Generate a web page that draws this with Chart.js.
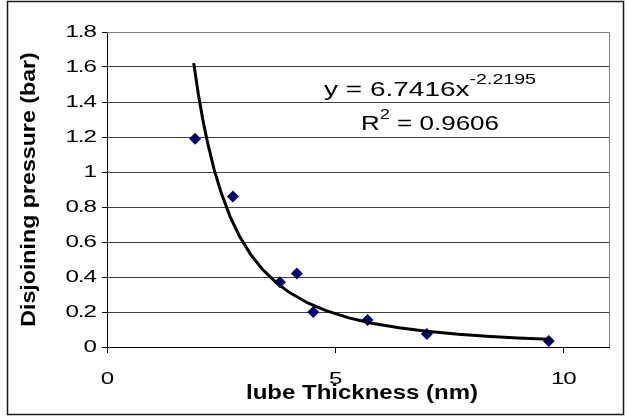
<!DOCTYPE html>
<html>
<head>
<meta charset="utf-8">
<script src="https://cdn.jsdelivr.net/npm/chart.js@4.4.1/dist/chart.umd.min.js"></script>
<style>
  html, body { margin: 0; padding: 0; background: #fff; }
  canvas { display: block; }
</style>
</head>
<body>
<canvas id="pressureChart" width="627" height="417"></canvas>
<script>
// measured lube film thickness (nm) and disjoining pressure (bar)
const thickness = [1.93, 2.76, 3.79, 4.16, 4.52, 5.71, 7.01, 9.68];
const pressure = [1.19, 0.86, 0.37, 0.42, 0.2, 0.155, 0.075, 0.035];

// power-law trendline y = a * x^b, coefficients as printed
const fitA = 6.7416;
const fitB = -2.2195;
const fitR2 = 0.9606;
const fitX = [1.9, 2.0, 2.1, 2.2, 2.35, 2.5, 2.7, 2.9, 3.15, 3.4, 3.7, 4.0, 4.4, 4.8, 5.3, 5.8, 6.4, 7.0, 7.7, 8.4, 9.0, 9.68];

const xTicks = [0, 5, 10];
const yTicks = [0, 0.2, 0.4, 0.6, 0.8, 1, 1.2, 1.4, 1.6, 1.8];

const FONT = '"Liberation Sans", Arial, sans-serif';

// Excel renders its text a bit wide, so stretch it horizontally
function wideText(ctx, text, x, y, sx, align) {
  const w = ctx.measureText(text).width * sx;
  let left = x;
  if (align === 'center') left = x - w / 2;
  else if (align === 'right') left = x - w;
  ctx.save();
  ctx.translate(left, y);
  ctx.scale(sx, 1);
  ctx.textAlign = 'left';
  ctx.fillText(text, 0, 0);
  ctx.restore();
  return w;
}

const excelText = {
  id: 'excelText',
  afterDraw(chart) {
    const { ctx, chartArea: a, scales: { x, y } } = chart;
    ctx.save();

    // grey top/right edges of the plot area
    ctx.strokeStyle = '#808080';
    ctx.lineWidth = 1;
    ctx.beginPath();
    ctx.moveTo(a.left, a.top + 0.5);
    ctx.lineTo(a.right + 0.5, a.top + 0.5);
    ctx.lineTo(a.right + 0.5, a.bottom);
    ctx.stroke();

    // chart frame
    ctx.strokeStyle = '#1a1a1a';
    ctx.lineWidth = 1.5;
    ctx.strokeRect(7.5, 1.5, 616, 413);

    // tick labels
    ctx.fillStyle = '#000';
    ctx.textBaseline = 'middle';
    ctx.font = '17px ' + FONT;
    ctx.letterSpacing = '-0.7px';
    y.ticks.forEach(t => wideText(ctx, String(t.value), a.left - 11, y.getPixelForValue(t.value), 1.42, 'right'));
    x.ticks.forEach(t => wideText(ctx, String(t.value), x.getPixelForValue(t.value), 379, 1.42, 'center'));
    ctx.letterSpacing = '0px';

    // axis titles
    ctx.font = 'bold 20px ' + FONT;
    wideText(ctx, 'lube Thickness (nm)', (a.left + a.right) / 2 + 4, 393, 1.2, 'center');
    ctx.save();
    ctx.translate(29, (a.top + a.bottom) / 2);
    ctx.rotate(-Math.PI / 2);
    wideText(ctx, 'Disjoining pressure (bar)', 0, 0, 1.16, 'center');
    ctx.restore();

    // trendline equation and R squared
    ctx.textBaseline = 'alphabetic';
    const big = '20px ' + FONT;
    const small = '14px ' + FONT;
    const eqMain = 'y = ' + fitA + 'x';
    const eqExp = String(fitB);
    ctx.font = big;
    const w1 = ctx.measureText(eqMain).width * 1.4;
    ctx.font = small;
    const w2 = ctx.measureText(eqExp).width * 1.4;
    let left = 430 - (w1 + w2) / 2;
    ctx.font = big;
    wideText(ctx, eqMain, left, 96, 1.4, 'left');
    ctx.font = small;
    wideText(ctx, eqExp, left + w1, 84, 1.4, 'left');

    const rTail = ' = ' + fitR2;
    ctx.font = big;
    const r1 = ctx.measureText('R').width * 1.3;
    const r3 = ctx.measureText(rTail).width * 1.3;
    ctx.font = small;
    const r2 = ctx.measureText('2').width * 1.3;
    left = 430 - (r1 + r2 + r3) / 2;
    ctx.font = big;
    wideText(ctx, 'R', left, 130, 1.3, 'left');
    wideText(ctx, rTail, left + r1 + r2, 130, 1.3, 'left');
    ctx.font = small;
    wideText(ctx, '2', left + r1, 119, 1.3, 'left');

    ctx.restore();
  }
};

new Chart(document.getElementById('pressureChart'), {
  type: 'scatter',
  data: {
    datasets: [
      {
        label: 'Power fit',
        data: fitX.map(v => ({ x: v, y: fitA * Math.pow(v, fitB) })),
        showLine: true,
        borderColor: '#000',
        borderWidth: 3,
        pointRadius: 0,
        tension: 0,
        order: 0
      },
      {
        label: 'Measured',
        data: thickness.map((v, i) => ({ x: v, y: pressure[i] })),
        pointStyle: 'rectRot',
        pointRadius: 6,
        pointBackgroundColor: '#000080',
        pointBorderColor: '#000080',
        pointBorderWidth: 0,
        order: 1
      }
    ]
  },
  options: {
    responsive: false,
    animation: false,
    events: [],
    layout: { padding: { left: 0, right: 18, top: 32, bottom: 0 } },
    plugins: {
      legend: { display: false },
      tooltip: { enabled: false }
    },
    scales: {
      x: {
        type: 'linear',
        min: 0,
        max: 11,
        afterBuildTicks: s => { s.ticks = xTicks.map(v => ({ value: v })); },
        afterFit: s => { s.height = 70; },
        ticks: { display: false },
        grid: { drawOnChartArea: false, tickLength: 6, tickColor: '#000' },
        border: { color: '#000' }
      },
      y: {
        min: 0,
        max: 1.8,
        afterBuildTicks: s => { s.ticks = yTicks.map(v => ({ value: v })); },
        afterFit: s => { s.width = 107; },
        ticks: { display: false },
        grid: { color: '#404040', tickLength: 5, tickColor: '#000' },
        border: { color: '#000' }
      }
    }
  },
  plugins: [excelText]
});
</script>
</body>
</html>
